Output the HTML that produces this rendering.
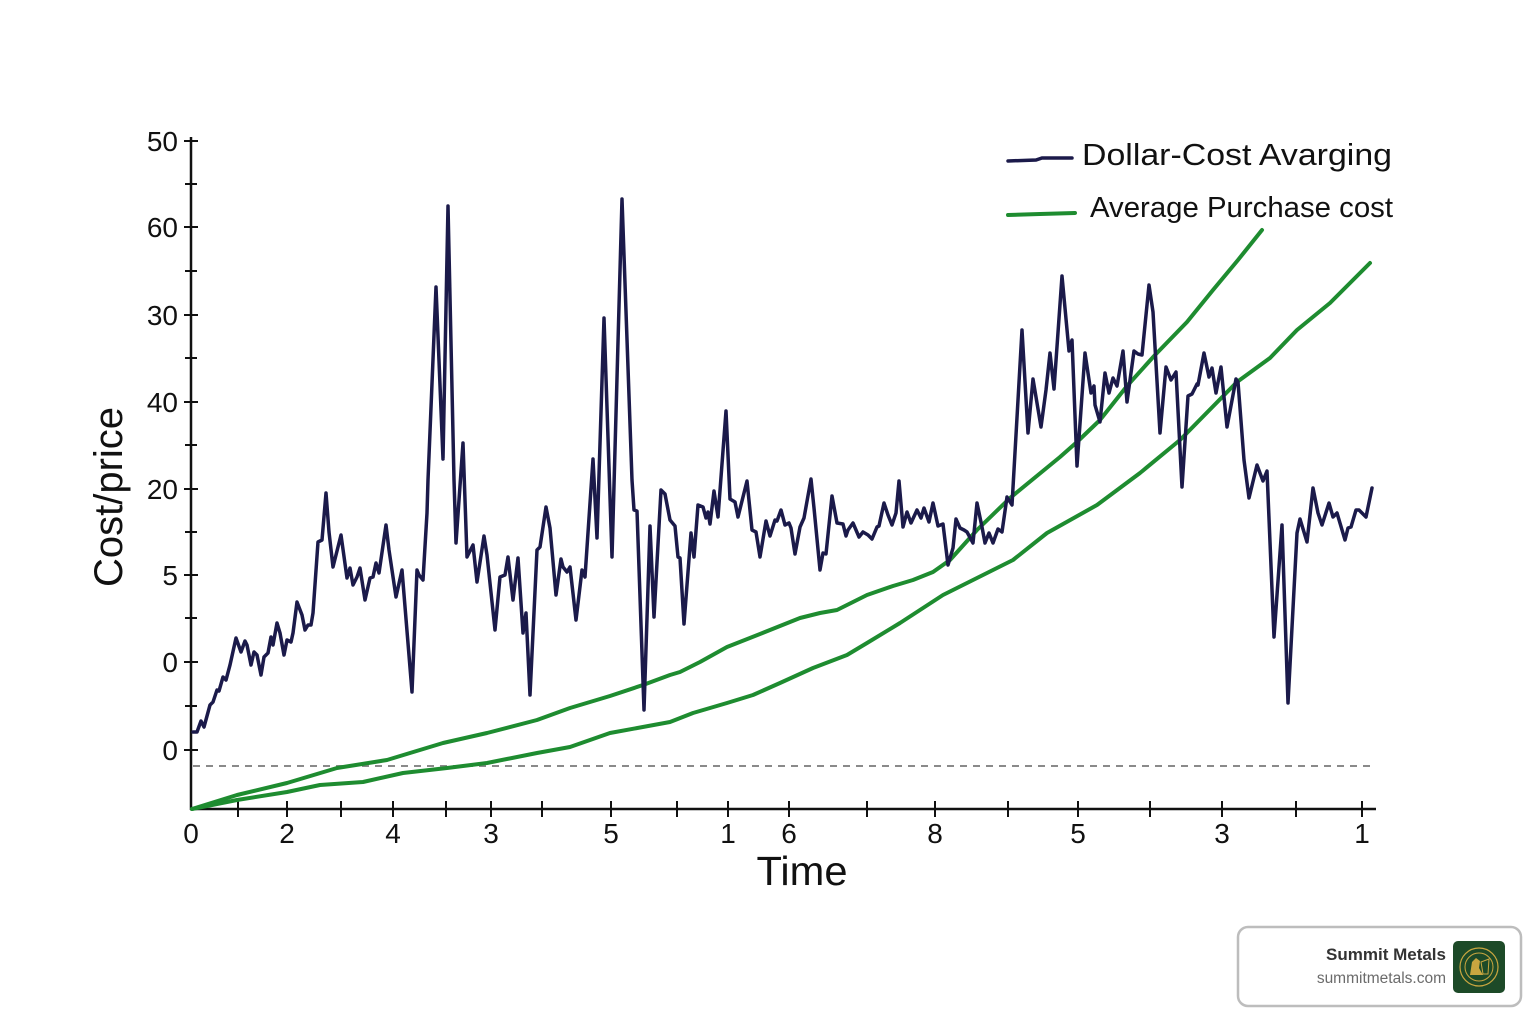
<!DOCTYPE html>
<html>
<head>
<meta charset="utf-8">
<style>
  html,body{margin:0;padding:0;background:#fff;}
  body{width:1536px;height:1024px;overflow:hidden;}
  svg{display:block;}
  text{font-family:"Liberation Sans",sans-serif;}
</style>
</head>
<body>
<svg width="1536" height="1024" viewBox="0 0 1536 1024" xmlns="http://www.w3.org/2000/svg">
  <rect x="0" y="0" width="1536" height="1024" fill="#ffffff"/>

  <!-- dashed reference line -->
  <line x1="193" y1="766" x2="1375" y2="766" stroke="#8a8a8a" stroke-width="2" stroke-dasharray="7,6"/>

  <!-- axes -->
  <line x1="191" y1="137" x2="191" y2="810" stroke="#111" stroke-width="2.5"/>
  <line x1="190" y1="809" x2="1376" y2="809" stroke="#111" stroke-width="2.5"/>

  <!-- y ticks -->
  <g stroke="#111" stroke-width="2">
    <line x1="184" y1="141" x2="198" y2="141"/>
    <line x1="185" y1="184" x2="197" y2="184"/>
    <line x1="184" y1="227" x2="198" y2="227"/>
    <line x1="185" y1="271" x2="197" y2="271"/>
    <line x1="184" y1="315" x2="198" y2="315"/>
    <line x1="185" y1="358" x2="197" y2="358"/>
    <line x1="184" y1="402" x2="198" y2="402"/>
    <line x1="185" y1="445" x2="197" y2="445"/>
    <line x1="184" y1="489" x2="198" y2="489"/>
    <line x1="185" y1="532" x2="197" y2="532"/>
    <line x1="184" y1="575" x2="198" y2="575"/>
    <line x1="185" y1="618" x2="197" y2="618"/>
    <line x1="184" y1="662" x2="198" y2="662"/>
    <line x1="185" y1="706" x2="197" y2="706"/>
    <line x1="184" y1="750" x2="198" y2="750"/>
  </g>

  <!-- x ticks -->
  <g stroke="#111" stroke-width="2">
    <line x1="238" y1="801" x2="238" y2="817"/>
    <line x1="287" y1="801" x2="287" y2="817"/>
    <line x1="341" y1="801" x2="341" y2="817"/>
    <line x1="393" y1="801" x2="393" y2="817"/>
    <line x1="446" y1="801" x2="446" y2="817"/>
    <line x1="491" y1="801" x2="491" y2="817"/>
    <line x1="542" y1="801" x2="542" y2="817"/>
    <line x1="611" y1="801" x2="611" y2="817"/>
    <line x1="677" y1="801" x2="677" y2="817"/>
    <line x1="728" y1="801" x2="728" y2="817"/>
    <line x1="789" y1="801" x2="789" y2="817"/>
    <line x1="867" y1="801" x2="867" y2="817"/>
    <line x1="935" y1="801" x2="935" y2="817"/>
    <line x1="1008" y1="801" x2="1008" y2="817"/>
    <line x1="1078" y1="801" x2="1078" y2="817"/>
    <line x1="1150" y1="801" x2="1150" y2="817"/>
    <line x1="1222" y1="801" x2="1222" y2="817"/>
    <line x1="1296" y1="801" x2="1296" y2="817"/>
    <line x1="1362" y1="801" x2="1362" y2="817"/>
  </g>

  <!-- y labels -->
  <g font-size="28" fill="#111" text-anchor="end">
    <text x="178" y="151">50</text>
    <text x="178" y="237">60</text>
    <text x="178" y="325">30</text>
    <text x="178" y="412">40</text>
    <text x="178" y="499">20</text>
    <text x="178" y="585">5</text>
    <text x="178" y="672">0</text>
    <text x="178" y="760">0</text>
  </g>

  <!-- x labels -->
  <g font-size="28" fill="#111" text-anchor="middle">
    <text x="191" y="843">0</text>
    <text x="287" y="843">2</text>
    <text x="393" y="843">4</text>
    <text x="491" y="843">3</text>
    <text x="611" y="843">5</text>
    <text x="728" y="843">1</text>
    <text x="789" y="843">6</text>
    <text x="935" y="843">8</text>
    <text x="1078" y="843">5</text>
    <text x="1222" y="843">3</text>
    <text x="1362" y="843">1</text>
  </g>

  <!-- axis titles -->
  <text x="802" y="885" font-size="41" fill="#111" text-anchor="middle" textLength="91" lengthAdjust="spacingAndGlyphs">Time</text>
  <text transform="translate(122,497) rotate(-90)" font-size="40" fill="#111" text-anchor="middle" textLength="180" lengthAdjust="spacingAndGlyphs">Cost/price</text>

  <!-- green average lines -->
  <g fill="none" stroke="#1e8c30" stroke-width="4" stroke-linejoin="round" stroke-linecap="round">
    <polyline points="192,809 237,795 287,783 337,768 387,760 410,753 443,743 487,733 537,720 570,708 610,696 643,685 670,675 680,672 700,662 727,647 760,634 800,618 820,613 837,610 867,595 893,586 913,580 933,572 950,560 977,530 1010,498 1060,457 1077,442 1100,420 1127,386 1155,355 1187,322 1213,290 1238,260 1262,230"/>
    <polyline points="192,809 237,800 287,792 320,785 363,782 403,773 447,768 487,763 537,753 570,747 610,733 670,722 693,713 727,703 753,695 780,683 813,668 847,655 867,643 900,623 943,595 993,570 1013,560 1047,533 1097,505 1140,473 1180,440 1237,382 1270,358 1297,330 1330,303 1370,263"/>
  </g>

  <!-- dark price line -->
  <polyline fill="none" stroke="#1b1a4a" stroke-width="3.5" stroke-linejoin="round" stroke-linecap="round"
    points="193,732 197,732 201,721 204,727 210,705 213,702 217,690 219,691 223,677 226,680 230,665 236,638 241,652 245,641 247,645 251,665 254,652 257,655 261,675 264,657 268,653 271,637 273,645 277,623 280,633 284,655 287,640 291,642 293,633 297,602 302,615 305,630 308,625 311,625 313,613 318,542 322,540 326,493 329,532 333,567 341,535 347,578 350,568 353,585 357,577 360,568 365,600 370,578 373,577 376,563 379,573 386,525 389,550 396,597 402,570 412,692 417,570 419,575 423,580 427,513 428,480 436,287 443,459 448,206 454,480 456,543 463,443 467,557 473,545 477,582 484,536 487,555 495,630 500,577 505,575 508,557 513,600 518,558 523,633 526,613 530,695 537,550 540,547 546,507 550,528 556,595 561,559 563,567 567,572 570,567 576,620 582,570 585,577 593,459 597,538 604,318 612,557 622,199 632,480 634,510 637,511 644,710 650,526 654,617 661,490 665,494 670,520 675,526 678,557 680,558 684,624 691,533 694,557 698,505 703,507 706,518 708,512 710,524 714,491 718,517 726,411 730,499 735,502 738,517 747,481 752,530 756,532 760,557 766,521 770,536 775,520 777,521 781,510 785,525 789,523 791,528 795,554 800,527 804,518 811,479 814,508 820,570 823,553 826,554 832,496 837,523 843,524 846,536 848,530 853,523 859,537 863,532 868,535 872,539 877,527 879,526 884,503 888,515 892,525 896,513 899,481 903,527 907,512 911,523 917,510 921,518 924,508 929,522 933,503 938,526 943,524 948,565 953,548 956,519 960,528 964,530 967,532 973,543 977,503 982,527 985,543 989,533 993,543 998,529 1002,532 1007,497 1012,505 1022,330 1028,433 1033,379 1041,427 1046,390 1050,353 1054,389 1062,276 1069,351 1072,340 1077,466 1085,353 1091,393 1094,386 1095,405 1100,422 1105,373 1109,393 1113,378 1117,386 1123,351 1127,402 1134,351 1138,354 1142,355 1149,285 1153,312 1160,433 1166,367 1171,380 1176,372 1182,487 1188,396 1192,394 1197,384 1198,385 1204,353 1209,377 1212,368 1216,393 1221,367 1227,427 1236,379 1238,382 1244,460 1249,498 1257,465 1263,481 1267,471 1274,637 1282,525 1288,703 1297,533 1300,519 1307,542 1313,488 1318,513 1322,525 1329,503 1333,517 1337,513 1345,540 1348,528 1351,527 1356,510 1359,510 1366,517 1372,488"/>

  <!-- legend -->
  <path d="M1008,161 L1036,160 L1042,158 L1072,158" fill="none" stroke="#1b1a4a" stroke-width="3.5" stroke-linecap="round"/>
  <text x="1082" y="165" font-size="31" fill="#111" textLength="310" lengthAdjust="spacingAndGlyphs">Dollar-Cost Avarging</text>
  <path d="M1008,215 L1040,214 L1075,213" fill="none" stroke="#1e8c30" stroke-width="4" stroke-linecap="round"/>
  <text x="1090" y="217" font-size="29" fill="#111" textLength="303" lengthAdjust="spacingAndGlyphs">Average Purchase cost</text>

  <!-- watermark -->
  <rect x="1238" y="927" width="283" height="79" rx="10" ry="10" fill="#ffffff" stroke="#bdbdbd" stroke-width="2.5"/>
  <text x="1446" y="960" font-size="17" font-weight="bold" fill="#333" text-anchor="end">Summit Metals</text>
  <text x="1446" y="983" font-size="15.5" fill="#6b6b6b" text-anchor="end">summitmetals.com</text>
  <rect x="1453" y="941" width="52" height="52" rx="5" ry="5" fill="#1d4a28"/>
  <circle cx="1479" cy="967" r="19" fill="none" stroke="#c9a640" stroke-width="1.2"/>
  <circle cx="1479" cy="967" r="14" fill="none" stroke="#c9a640" stroke-width="1"/>
  <path d="M1470,975 L1472,962 L1476,958 L1480,961 L1479,968 L1483,975 Z" fill="#c9a640"/>
  <path d="M1481,962 L1489,959 L1488,974 L1483,974 Z" fill="none" stroke="#c9a640" stroke-width="1"/>
</svg>
</body>
</html>
